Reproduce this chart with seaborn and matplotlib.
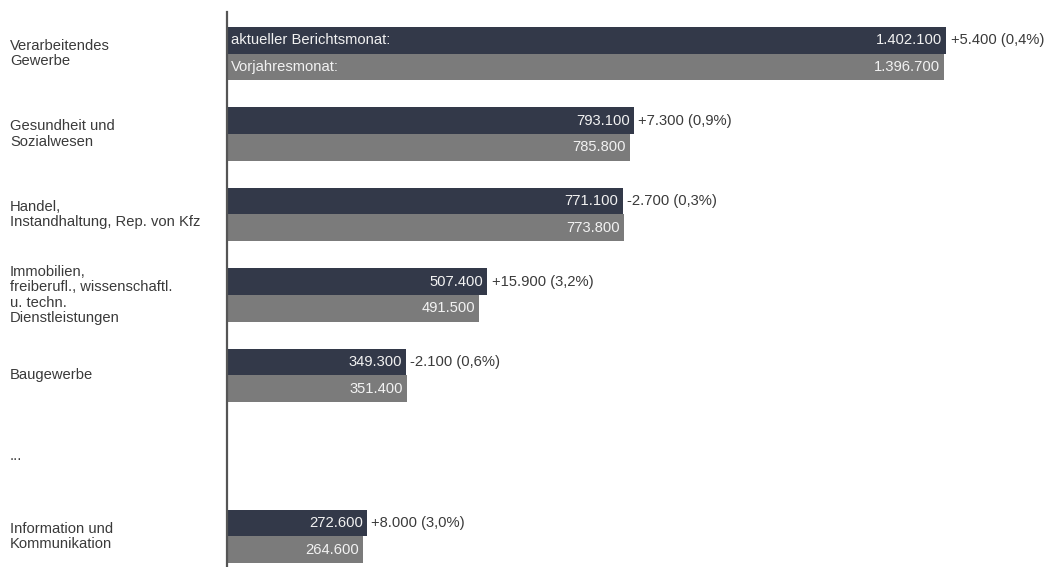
'''
Beschaeftigte nach Wirtschaftszweigen: aktueller Berichtsmonat vs. Vorjahresmonat
'''

# imports
import pandas as pd
import seaborn as sns
import matplotlib.pyplot as plt
import matplotlib.transforms as mtransforms

# data
categories = [
    "Verarbeitendes\nGewerbe",
    "Gesundheit und\nSozialwesen",
    "Handel,\nInstandhaltung, Rep. von Kfz",
    "Immobilien,\nfreiberufl., wissenschaftl.\nu. techn.\nDienstleistungen",
    "Baugewerbe",
    "...",
    "Information und\nKommunikation",
]
current = [1402100, 793100, 771100, 507400, 349300, None, 272600]
previous = [1396700, 785800, 773800, 491500, 351400, None, 264600]
periods = ["aktueller Berichtsmonat:", "Vorjahresmonat:"]

# colours / text
col_dct = {periods[0]: "#2f374d", periods[1]: "#7b7b7b"}
text_col = "#3a3a3a"
fs = 10.6

def fmt(v):
    return f"{v:,.0f}".replace(",", ".")

# long frame
rows = []
for cat, cur, prev in zip(categories, current, previous):
    if cur is None:
        continue
    rows.append({"cat": cat, "period": periods[0], "value": cur})
    rows.append({"cat": cat, "period": periods[1], "value": prev})
df = pd.DataFrame(rows)

sns.set_style("white")
plt.rcParams["font.family"] = ["Liberation Sans", "DejaVu Sans"]

fig = plt.figure(figsize=(10.5, 5.67), dpi=100)
ax = fig.add_axes([227 / 1050, 0, 821 / 1050, 555 / 567])

sns.barplot(
    data=df,
    x="value",
    y="cat",
    hue="period",
    order=categories,
    hue_order=periods,
    palette=col_dct,
    orient="h",
    width=0.66,
    gap=0,
    linewidth=0,
    legend=False,
    ax=ax)

ax.set_xlim(0, 1600000)
ax.set_ylim(6.38, -0.516)
ax.set_xlabel("")
ax.set_ylabel("")
ax.set_xticks([])
ax.set_yticks([])
for s in ["top", "right", "bottom"]:
    ax.spines[s].set_visible(False)
ax.spines["left"].set_color("#555555")
ax.spines["left"].set_linewidth(1.6)

# category labels at left edge of figure
trans = mtransforms.blended_transform_factory(fig.transFigure, ax.transData)
for i, cat in enumerate(categories):
    ax.text(10 / 1050, i, cat, transform=trans, ha="left", va="center",
            fontsize=fs, color=text_col, linespacing=1.12)

# value labels
cur_c, prev_c = ax.containers[0], ax.containers[1]
prev_by_row = {}
for bar in prev_c:
    yc = bar.get_y() + bar.get_height() / 2
    prev_by_row[int(round(yc))] = bar.get_width()

for cont, is_cur in [(cur_c, True), (prev_c, False)]:
    for bar in cont:
        w = bar.get_width()
        yc = bar.get_y() + bar.get_height() / 2
        row = int(round(yc))
        ax.annotate(fmt(w), (w, yc), xytext=(-3, 0), textcoords="offset points",
                    ha="right", va="center", fontsize=fs, color="#f2f2f2")
        if row == 0:
            ax.annotate(periods[0] if is_cur else periods[1], (0, yc), xytext=(3, 0),
                        textcoords="offset points", ha="left", va="center",
                        fontsize=fs, color="#f2f2f2")
        if is_cur:
            p = prev_by_row[row]
            d = w - p
            pct = f"{abs(d) / p * 100:.1f}".replace(".", ",")
            sign = "+" if d >= 0 else "-"
            txt = f"{sign}{fmt(abs(d))} ({pct}%)"
            ax.annotate(txt, (w, yc), xytext=(3, 0), textcoords="offset points",
                        ha="left", va="center", fontsize=fs, color=text_col)

plt.savefig("out.png", dpi=100)
